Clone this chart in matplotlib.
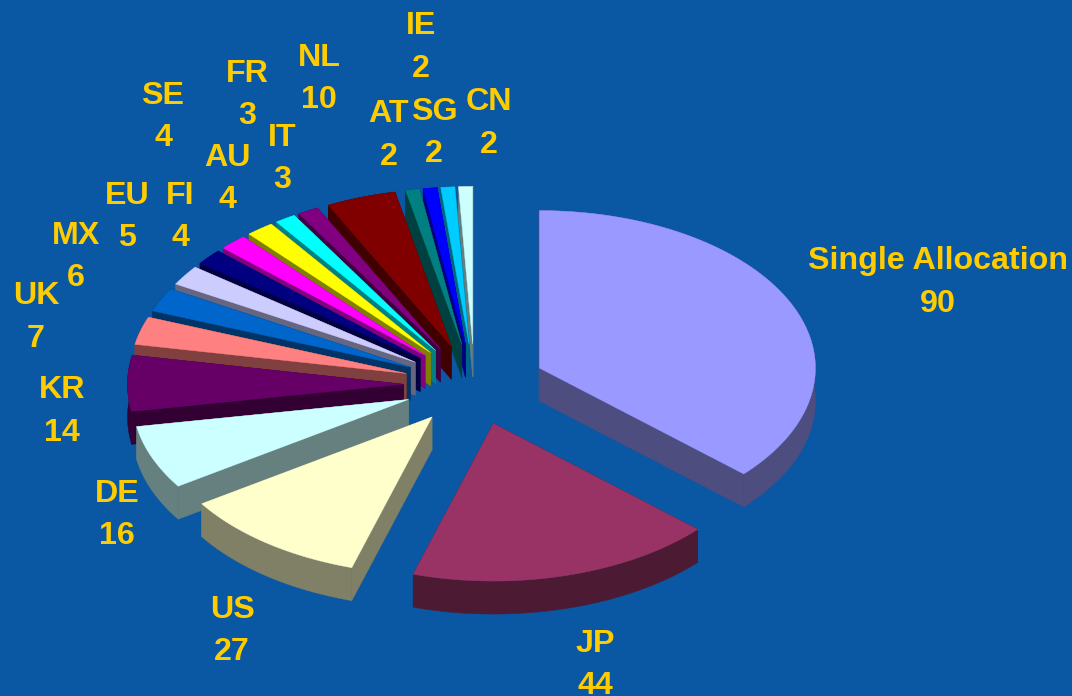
import numpy as np
import matplotlib
matplotlib.use('Agg')
import matplotlib.pyplot as plt
from matplotlib.patches import Polygon
from matplotlib.colors import to_rgb

# data, clockwise from 12 o'clock
categorias = ["Single Allocation", "JP", "US", "DE", "KR", "UK", "MX", "EU", "FI",
              "SE", "AU", "FR", "IT", "NL", "AT", "IE", "SG", "CN"]
valores = [90, 44, 27, 16, 14, 7, 6, 5, 4, 4, 4, 3, 3, 10, 2, 2, 2, 2]
cores = ["#9999FF", "#993366", "#FFFFCC", "#CCFFFF", "#660066", "#FF8080", "#0066CC",
         "#CCCCFF", "#000080", "#FF00FF", "#FFFF00", "#00FFFF", "#800080", "#800000",
         "#008080", "#0000FF", "#00CCFF", "#CCFFFF"]

# label centres in pixels (x, y of the first line)
pos_rotulos = [(938, 259), (595, 641), (232, 607), (117, 491), (62, 388), (36, 294),
               (76, 233), (127, 193), (180, 193), (163, 93), (227, 155), (247, 71),
               (282, 135), (319, 55), (389, 112), (421, 24), (434, 109), (489, 100)]

fundo = "#0A57A3"
cor_texto = "#FFCC00"

# pie geometry in pixels
cx, cy = 474.5, 384.5
rx, ry = 276, 157.5
explode = 71
altura = 33

fig = plt.figure(figsize=(10.72, 6.96), dpi=100, facecolor=fundo)
ax = fig.add_axes([0, 0, 1, 1])
ax.set_xlim(0, 1072)
ax.set_ylim(696, 0)
ax.axis("off")

total = sum(valores)
limites = np.cumsum([0] + valores) / total * 2 * np.pi
fatias = list(zip(limites[:-1], limites[1:], cores))
# back slices first, front ones paint over them
fatias.sort(key=lambda f: -np.cos((f[0] + f[1]) / 2))

for a0, a1, cor in fatias:
    meio = (a0 + a1) / 2
    x0 = cx + explode * np.sin(meio)
    y0 = cy - explode * ry / rx * np.cos(meio)
    t = np.linspace(a0, a1, 80)
    xs = x0 + rx * np.sin(t)
    ys = y0 - ry * np.cos(t)
    escuro = tuple(c * 0.5 for c in to_rgb(cor))

    # two cut faces
    for xb, yb in [(xs[0], ys[0]), (xs[-1], ys[-1])]:
        ax.add_patch(Polygon([(x0, y0), (xb, yb), (xb, yb + altura), (x0, y0 + altura)],
                             facecolor=escuro, edgecolor=escuro, linewidth=0.3))
    # outer wall
    parede = np.r_[np.c_[xs, ys], np.c_[xs, ys + altura][::-1]]
    ax.add_patch(Polygon(parede, facecolor=escuro, edgecolor=escuro, linewidth=0.3))
    # top
    topo = np.r_[[[x0, y0]], np.c_[xs, ys]]
    ax.add_patch(Polygon(topo, facecolor=cor, edgecolor=cor, linewidth=0.3))

for nome, valor, (x, y) in zip(categorias, valores, pos_rotulos):
    # baseline sits about 11 px under the centre of the capitals
    ax.text(x, y + 10.5, nome, color=cor_texto, fontsize=23.2, fontweight="bold",
            family="Liberation Sans", ha="center", va="baseline")
    ax.text(x, y + 53, str(valor), color=cor_texto, fontsize=23.2, fontweight="bold",
            family="Liberation Sans", ha="center", va="baseline")

fig.savefig("out.png", dpi=100, facecolor=fundo)
